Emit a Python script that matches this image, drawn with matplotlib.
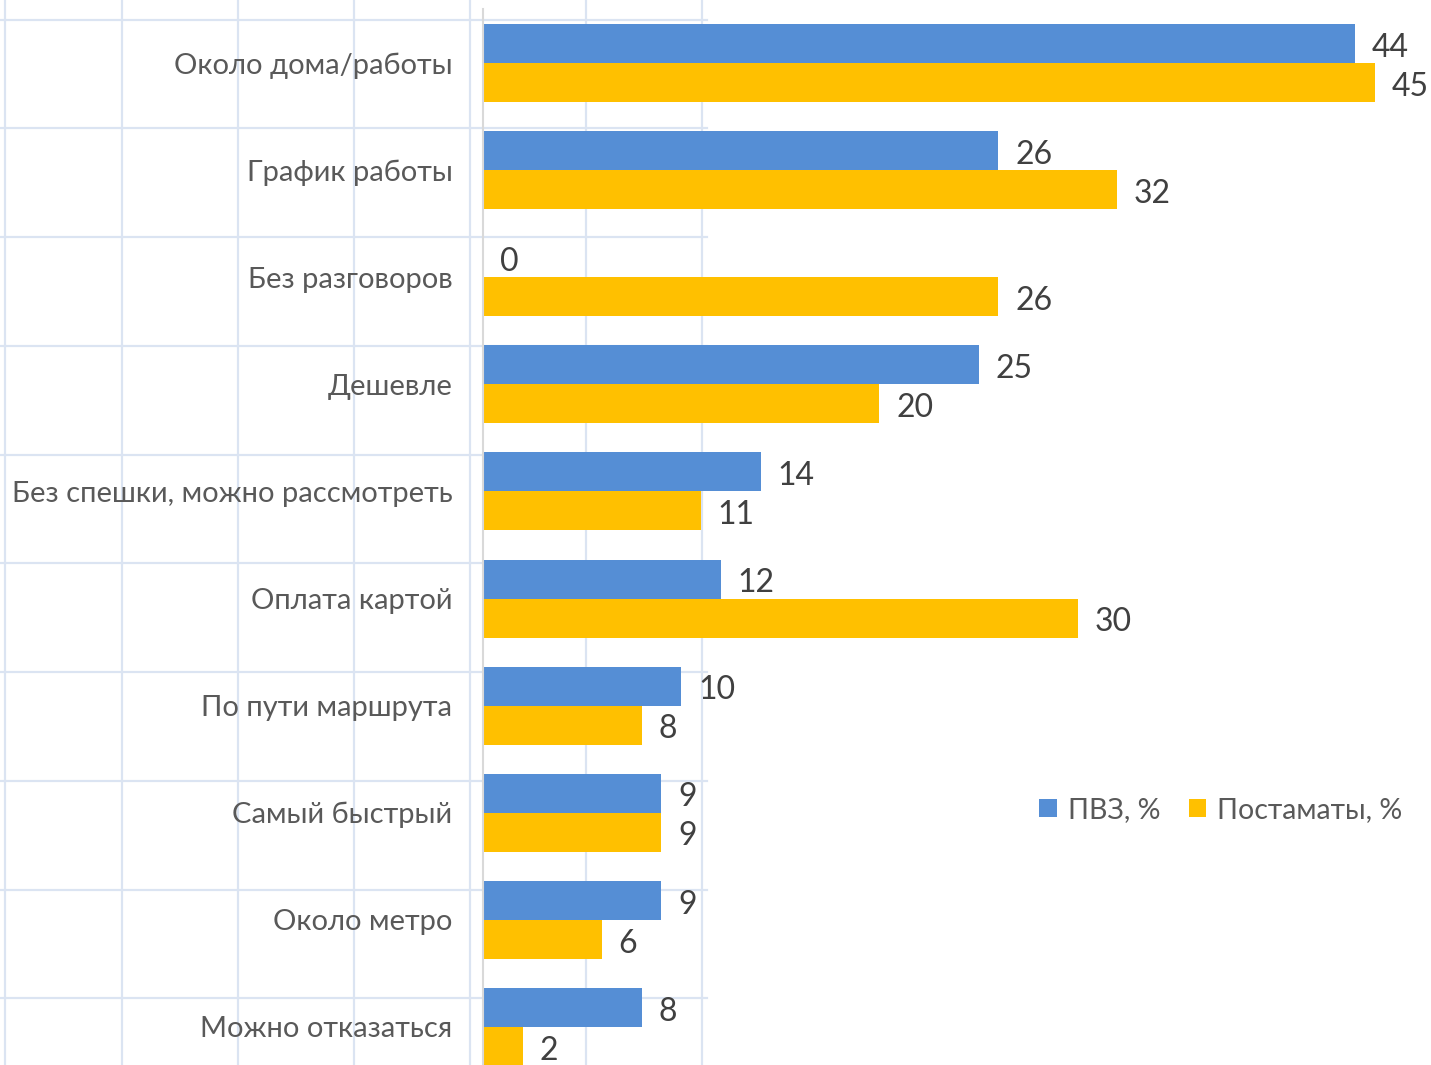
import numpy as np
import matplotlib
matplotlib.use("Agg")
import matplotlib.pyplot as plt
from matplotlib.lines import Line2D

cats = ['Около дома/работы', 'График работы', 'Без разговоров', 'Дешевле',
        'Без спешки, можно рассмотреть', 'Оплата картой', 'По пути маршрута',
        'Самый быстрый', 'Около метро', 'Можно отказаться']
pvz = [44, 26, 0, 25, 14, 12, 10, 9, 9, 8]
post = [45, 32, 26, 20, 11, 30, 8, 9, 6, 2]
names = ['ПВЗ, %', 'Постаматы, %']

blue = '#558ed5'
gold = '#ffc000'
W, H = 1431, 1065

plt.rcParams['font.family'] = ['Lato', 'DejaVu Sans']
fig = plt.figure(figsize=(W / 100, H / 100), dpi=100)
fig.patch.set_facecolor('white')

# spreadsheet cell grid behind the chart
gc = '#dbe4f2'
for x in [5, 122, 238, 354, 470, 586, 702]:
    fig.add_artist(Line2D([x / W, x / W], [0, 1], color=gc, lw=1.6, zorder=0))
for y in [20, 128, 237, 346, 455, 563, 672, 781, 890, 998]:
    fig.add_artist(Line2D([0, 707 / W], [1 - y / H, 1 - y / H], color=gc, lw=1.6, zorder=0))

x0 = 483
top = 9.5
band = 107.1
ax = fig.add_axes([x0 / W, 0, (W - x0) / W, (H - top) / H])
ax.patch.set_alpha(0)
ax.set_zorder(2)

pxu = (1375 - x0) / 45
ax.set_xlim(0, (W - x0) / pxu)
ax.set_ylim(-0.5 + (H - top) / band, -0.5)

y = np.arange(len(cats))
h = 39 / band
ax.barh(y - h / 2, pvz, height=h, color=blue, label=names[0])
ax.barh(y + h / 2, post, height=h, color=gold, label=names[1])

for i in range(len(cats)):
    for v, off in [(pvz[i], -h / 2), (post[i], h / 2)]:
        ax.annotate(str(v), (v, y[i] + off), xytext=(12, -3), textcoords='offset points',
                    va='center', ha='left', fontsize=23, color='#404040')

ax.set_yticks(y)
ax.set_yticklabels(cats, fontsize=21, color='#595959')
ax.tick_params(axis='y', length=0, pad=22)
ax.set_xticks([])
for s in ['top', 'right', 'bottom']:
    ax.spines[s].set_visible(False)
ax.spines['left'].set_color('#d9d9d9')
ax.spines['left'].set_linewidth(1.5)

leg = ax.legend(loc='center', bbox_to_anchor=(1221 / W, 1 - 810 / H), bbox_transform=fig.transFigure,
                ncol=2, frameon=False, fontsize=20.5, handlelength=0.6, handleheight=0.6,
                handletextpad=0.4, columnspacing=1.0)
for t in leg.get_texts():
    t.set_color('#595959')

fig.savefig('out.png', dpi=100)
